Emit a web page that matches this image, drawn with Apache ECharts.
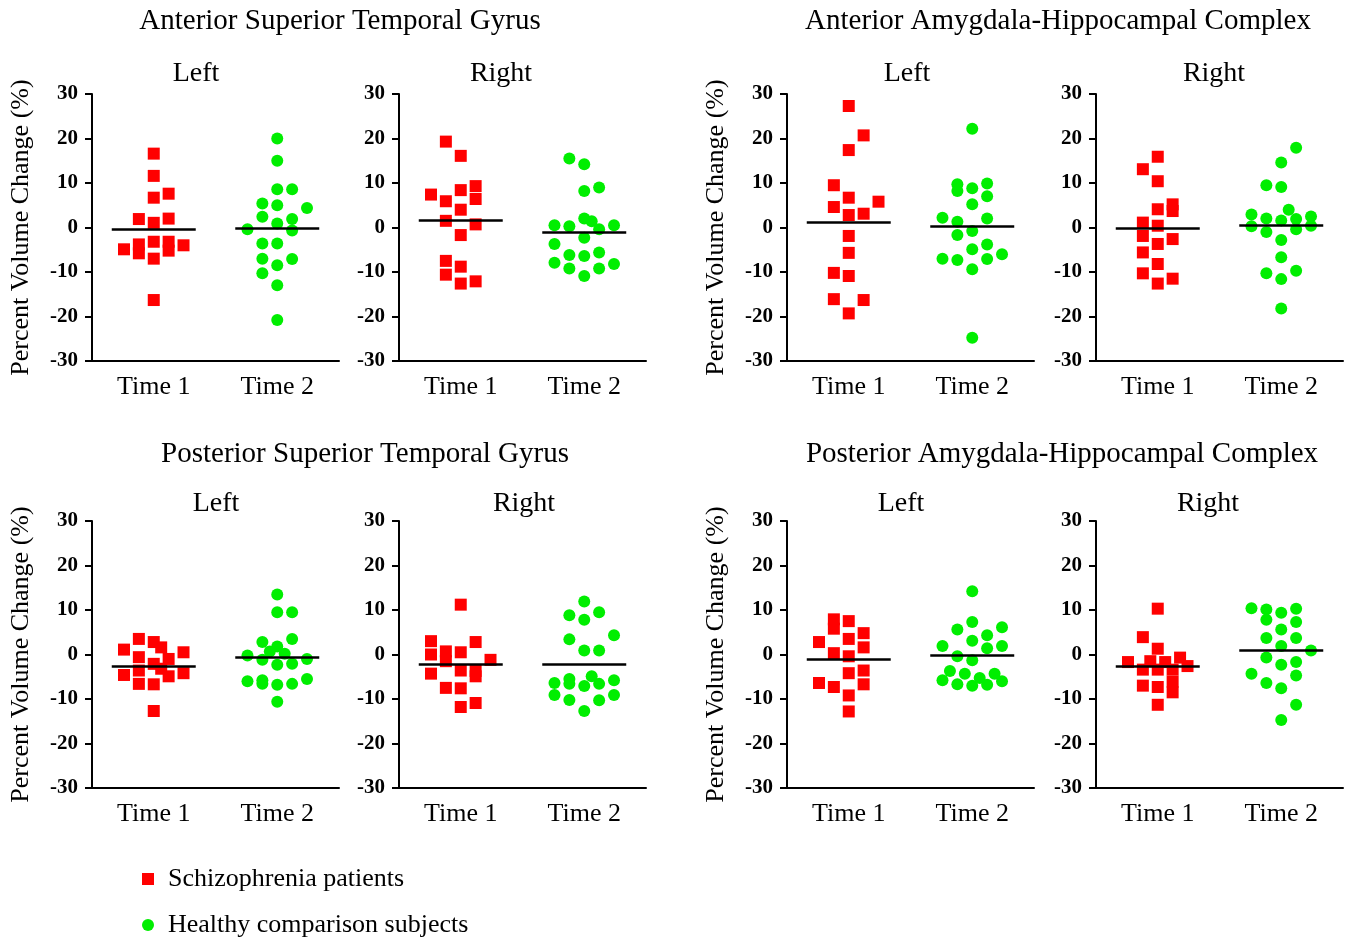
<!DOCTYPE html>
<html><head><meta charset="utf-8">
<script src="https://cdn.jsdelivr.net/npm/echarts@6/dist/echarts.min.js"></script>
<style>html,body{margin:0;padding:0;background:#fff}#c{width:1353px;height:942px}</style>
</head><body><div id="c"></div>
<script>
// ---------- data ----------
const timeLabels = ['Time 1', 'Time 2'];
const seriesNames = ['Schizophrenia patients', 'Healthy comparison subjects'];
const groupTitles = ['Anterior Superior Temporal Gyrus', 'Anterior Amygdala-Hippocampal Complex',
                     'Posterior Superior Temporal Gyrus', 'Posterior Amygdala-Hippocampal Complex'];
const sideTitles = ['Left', 'Right', 'Left', 'Right', 'Left', 'Right', 'Left', 'Right'];
const yName = 'Percent Volume Change (%)';

// points: [jitter column, percent volume change]; patients at Time 1, controls at Time 2
const antSTG_L_pat = [[0,16.6],[0,11.6],[0,6.7],[1,7.6],[-1,1.9],[1,2.0],[0,1.05],[-2,-4.9],[-1,-3.8],[-1,-5.8],[0,-3.2],[1,-3.2],[1,-5.2],[2,-4.0],[0,-7.0],[0,-16.3]];
const antSTG_L_hc  = [[0,20],[0,15],[0,8.6],[1,8.6],[-1,5.4],[0,5.0],[2,4.4],[-1,2.4],[1,1.9],[0,0.9],[-2,-0.4],[1,-0.7],[-1,-3.6],[0,-3.6],[-1,-7.0],[1,-7.1],[0,-8.5],[-1,-10.3],[0,-13.0],[0,-20.8]];
const antSTG_R_pat = [[-1,19.3],[0,16.1],[-2,7.4],[1,9.3],[0,8.4],[-1,5.9],[1,6.4],[0,4.0],[-1,1.5],[1,0.7],[0,-1.7],[-1,-7.5],[0,-8.8],[-1,-10.6],[0,-12.6],[1,-12.1]];
const antSTG_R_hc  = [[-1,15.5],[0,14.2],[0,8.2],[1,9.0],[0,2.0],[0.5,1.4],[-2,0.5],[-1,0.3],[2,0.5],[1,-0.4],[0,-2.3],[-2,-3.7],[-1,-6.2],[0,-6.4],[1,-5.6],[-2,-7.9],[-1,-9.2],[1,-9.2],[2,-8.2],[0,-10.9]];
const antAHC_L_pat = [[0,27.3],[1,20.7],[0,17.4],[-1,9.5],[0,6.7],[-1,4.6],[2,5.8],[0,2.8],[1,3.1],[0,-1.9],[0,-5.7],[-1,-10.2],[0,-10.9],[-1,-16.1],[1,-16.3],[0,-19.3]];
const antAHC_L_hc  = [[0,22.2],[-1,9.7],[-1,8.2],[0,8.8],[1,9.9],[1,7.0],[0,5.2],[-2,2.2],[1,2.0],[-1,1.3],[0,-0.8],[-1,-1.7],[1,-3.8],[0,-4.9],[2,-6.0],[-2,-7.0],[-1,-7.3],[1,-7.1],[0,-9.4],[0,-24.8]];
const antAHC_R_pat = [[0,15.9],[-1,13.1],[0,10.4],[1,5.2],[1,3.7],[0,4.1],[-1,1.1],[-1,-1.9],[0,0.4],[1,-2.6],[0,-3.7],[-1,-5.6],[0,-8.2],[-1,-10.3],[1,-11.5],[0,-12.6]];
const antAHC_R_hc  = [[1,17.9],[0,14.6],[-1,9.5],[0,9.1],[0.5,4.0],[-2,2.9],[-1,2.0],[0,1.6],[1,1.9],[2,2.5],[-2,0.3],[2,0.4],[1,-0.4],[-1,-1.0],[0,-2.8],[0,-6.7],[-1,-10.3],[1,-9.7],[0,-11.6],[0,-18.2]];
const postSTG_L_pat = [[-1,3.5],[0,2.8],[0.5,1.6],[-2,1.1],[2,0.5],[-1,-0.6],[1,-1.0],[0,-2.1],[0.5,-3.2],[-1,-3.6],[-2,-4.6],[2,-4.2],[1,-4.9],[-1,-6.6],[0,-6.7],[0,-12.7]];
const postSTG_L_hc  = [[0,13.5],[0,9.5],[1,9.5],[1,3.5],[-1,2.8],[0,1.8],[-0.5,0.7],[0.5,0.15],[-2,-0.2],[-1,-1.2],[2,-1.0],[0,-2.3],[1,-2.1],[-2,-6.0],[-1,-5.8],[-1,-6.6],[2,-5.5],[0,-6.8],[1,-6.6],[0,-10.6]];
const postSTG_R_pat = [[0,11.2],[-2,3.0],[1,2.8],[-2,0.0],[-1,0.7],[-1,-1.5],[0,0.5],[2,-1.2],[0,-3.6],[1,-3.7],[1,-4.9],[-2,-4.3],[-1,-7.5],[0,-7.6],[1,-10.9],[0,-11.8]];
const postSTG_R_hc  = [[0,11.9],[-1,8.8],[1,9.5],[0,7.8],[-1,3.4],[2,4.3],[0,0.9],[1,0.9],[0.5,-4.9],[-1,-5.5],[-1,-6.6],[-2,-6.4],[0,-7.1],[1,-6.6],[2,-5.8],[-2,-9.1],[-1,-10.2],[1,-10.3],[2,-9.1],[0,-12.7]];
const postAHC_L_pat = [[-1,7.9],[-1,5.8],[0,7.5],[1,4.8],[0,3.5],[-2,2.8],[1,1.6],[-1,0.3],[0,-0.4],[0,-4.2],[1,-3.6],[1,-6.7],[-2,-6.4],[-1,-7.3],[0,-9.2],[0,-12.8]];
const postAHC_L_hc  = [[0,14.2],[0,7.3],[-1,5.6],[2,6.1],[1,4.3],[0,3.1],[-2,1.9],[1,1.4],[2,1.9],[-1,-0.4],[0,-1.3],[-1.5,-3.7],[-0.5,-4.3],[1.5,-4.3],[-2,-5.8],[0.5,-5.3],[2,-6.0],[-1,-6.7],[0,-7.0],[1,-6.8]];
const postAHC_R_pat = [[0,10.3],[-1,3.9],[0,1.3],[-2,-1.7],[-0.5,-1.5],[0.5,-1.7],[1.5,-0.7],[-1,-3.4],[0,-3.4],[1,-3.4],[2,-2.6],[-1,-7.0],[0,-7.3],[1,-6.1],[1,-8.5],[0,-11.3]];
const postAHC_R_hc  = [[-2,10.4],[-1,10.1],[0,9.4],[1,10.3],[-1,7.8],[1,7.3],[0,5.6],[-1,3.7],[1,3.7],[0,1.9],[2,0.9],[-1,-0.7],[0,-2.3],[1,-1.7],[-2,-4.3],[1,-4.7],[-1,-6.4],[0,-7.6],[1,-11.3],[0,-14.7]];

// group means [Time 1, Time 2] per panel
const meansAntSTG_L = [-0.4, -0.1];
const meansAntSTG_R = [1.6, -1.0];
const meansAntAHC_L = [1.1, 0.2];
const meansAntAHC_R = [-0.1, 0.4];
const meansPostSTG_L = [-2.6, -0.6];
const meansPostSTG_R = [-2.3, -2.3];
const meansPostAHC_L = [-1.0, -0.2];
const meansPostAHC_R = [-2.7, 0.9];

const panelPat = [antSTG_L_pat, antSTG_R_pat, antAHC_L_pat, antAHC_R_pat, postSTG_L_pat, postSTG_R_pat, postAHC_L_pat, postAHC_R_pat];
const panelHc  = [antSTG_L_hc, antSTG_R_hc, antAHC_L_hc, antAHC_R_hc, postSTG_L_hc, postSTG_R_hc, postAHC_L_hc, postAHC_R_hc];
const panelMeans = [meansAntSTG_L, meansAntSTG_R, meansAntAHC_L, meansAntAHC_R, meansPostSTG_L, meansPostSTG_R, meansPostAHC_L, meansPostAHC_R];

// ---------- layout / style ----------
const FONT = '"Liberation Serif", "Times New Roman", serif';
const catPos = [1, 3];          // category centres on the x value axis (0..4)
const colStep = 0.241;          // horizontal jitter column width in axis units
const meanHalf = 0.68;          // half-length of mean bar in axis units
const gridLeft = [92, 399, 787, 1096, 92, 399, 787, 1096];
const gridTop  = [94, 94, 94, 94, 521, 521, 521, 521];
const GW = 247, GH = 267;
const sideX = [196, 501, 907, 1214, 216, 524, 901, 1208];
const sideY = [74, 74, 74, 74, 504, 504, 504, 504];
const groupX = [340, 1058, 365, 1062];
const groupY = [21, 21, 454, 454];
const RED = '#ff0000', GREEN = '#00ee00';

const grids = [], xAxes = [], yAxes = [], series = [], graphics = [];
for (let i = 0; i < 8; i++) {
  grids.push({ left: gridLeft[i], top: gridTop[i], width: GW, height: GH, containLabel: false });
  xAxes.push({
    gridIndex: i, type: 'value', min: 0, max: 4, interval: 1,
    axisLine: { show: true, onZero: false, lineStyle: { color: '#000', width: 2 } },
    axisTick: { show: false }, splitLine: { show: false },
    axisLabel: { color: '#000', fontFamily: FONT, fontSize: 26, margin: 13,
      formatter: v => v === catPos[0] ? timeLabels[0] : (v === catPos[1] ? timeLabels[1] : '') }
  });
  const showName = (i % 2 === 0);
  yAxes.push({
    gridIndex: i, type: 'value', min: -30, max: 30, interval: 10,
    name: showName ? yName : '', nameLocation: 'middle', nameRotate: 90, nameGap: 58,
    nameTextStyle: { color: '#000', fontFamily: FONT, fontSize: 26 },
    axisLine: { show: true, lineStyle: { color: '#000', width: 2 } },
    axisTick: { show: true, length: 7, lineStyle: { color: '#000', width: 2 } },
    splitLine: { show: false },
    axisLabel: { color: '#000', fontFamily: FONT, fontSize: 21, fontWeight: 'bold', margin: 14 }
  });
  const groups = [panelPat[i], panelHc[i]];
  groups.forEach((pts, g) => {
    const m = panelMeans[i][g];
    series.push({
      name: seriesNames[g], type: 'scatter', xAxisIndex: i, yAxisIndex: i,
      symbol: g === 0 ? 'rect' : 'circle', symbolSize: 12,
      itemStyle: { color: g === 0 ? RED : GREEN, opacity: 1 },
      data: pts.map(p => [catPos[g] + p[0] * colStep, p[1]]),
      markLine: {
        silent: true, symbol: ['none', 'none'], label: { show: false },
        lineStyle: { color: '#000', width: 2.5, type: 'solid' },
        data: [[{ coord: [catPos[g] - meanHalf, m] }, { coord: [catPos[g] + meanHalf, m] }]]
      }
    });
  });
  graphics.push({ type: 'text', x: sideX[i], y: sideY[i], silent: true,
    style: { text: sideTitles[i], align: 'center', verticalAlign: 'middle', fill: '#000', fontFamily: FONT, fontSize: 28 } });
}
for (let k = 0; k < 4; k++) {
  graphics.push({ type: 'text', x: groupX[k], y: groupY[k], silent: true,
    style: { text: groupTitles[k], align: 'center', verticalAlign: 'middle', fill: '#000', fontFamily: FONT, fontSize: 29 } });
}

const legendBase = {
  orient: 'vertical', left: 137, itemWidth: 12, itemHeight: 12, selectedMode: false,
  textStyle: { color: '#000', fontFamily: FONT, fontSize: 26, padding: [0, 0, 0, 9] }
};

const chart = echarts.init(document.getElementById('c'), null, { renderer: 'canvas' });
chart.setOption({
  animation: false,
  backgroundColor: '#fff',
  grid: grids, xAxis: xAxes, yAxis: yAxes, series: series,
  legend: [
    Object.assign({}, legendBase, { top: 861, data: [{ name: seriesNames[0], icon: 'rect' }] }),
    Object.assign({}, legendBase, { top: 907, data: [{ name: seriesNames[1], icon: 'circle' }] })
  ],
  graphic: graphics
});
</script></body></html>
